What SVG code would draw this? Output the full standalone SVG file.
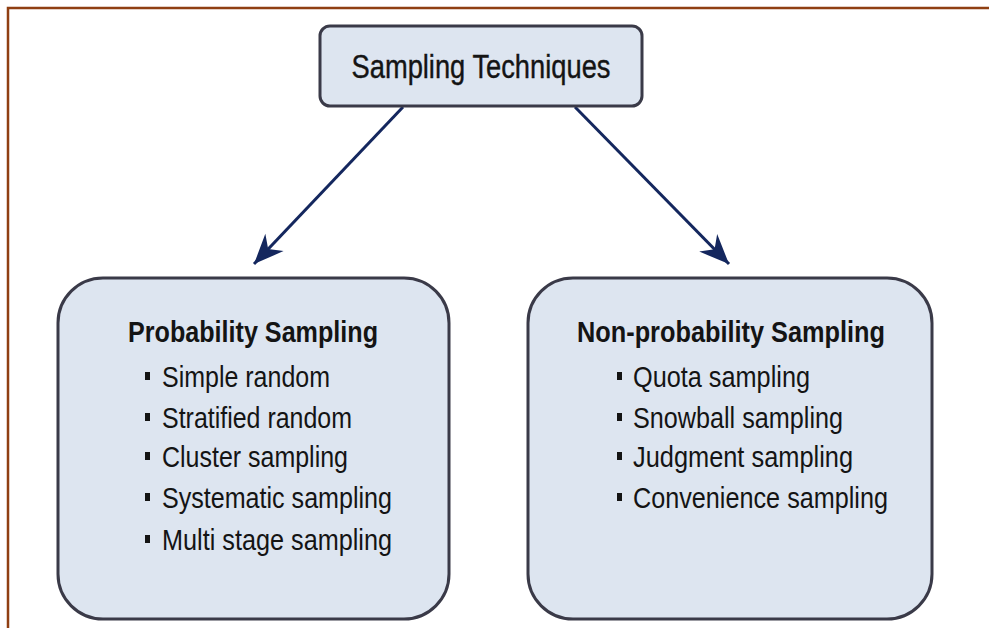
<svg xmlns="http://www.w3.org/2000/svg" width="989" height="628" viewBox="0 0 989 628">
<style>
.box{fill:#dde5f0;stroke:#3a3a48;stroke-width:3}
.t{font-family:"Liberation Sans",Arial,sans-serif;fill:#141414}
.h{font-weight:bold;font-size:30px}
.i{font-size:29px}
.bul{fill:#141414}
.conn{stroke:#14275e;stroke-width:3;fill:none;marker-end:url(#ah)}
</style>
<defs>
<marker id="ah" markerUnits="userSpaceOnUse" markerWidth="40" markerHeight="40" viewBox="-30 -15 35 30" refX="0" refY="0" orient="auto">
<path d="M0,0 L-26,-11 L-18,0 L-26,11 Z" fill="#14275e"/>
</marker>
</defs>
<rect width="989" height="628" fill="#ffffff"/>
<path d="M8,628 L8,8 L989,8" fill="none" stroke="#8f3f12" stroke-width="2.5"/>
<g id="connectors">
<line class="conn" x1="403" y1="107" x2="254" y2="264"/>
<line class="conn" x1="575" y1="107" x2="729" y2="264"/>
</g>
<g id="root">
<rect class="box" x="320" y="26" width="322" height="80" rx="10"/>
<text class="t" x="481" y="78" text-anchor="middle" font-size="33" textLength="259" lengthAdjust="spacingAndGlyphs" stroke="#141414" stroke-width="0.4">Sampling Techniques</text>
</g>
<g id="probability">
<rect class="box" x="58" y="278" width="391" height="341" rx="45"/>
<text class="t h" x="128" y="342" textLength="250" lengthAdjust="spacingAndGlyphs">Probability Sampling</text>
<rect class="bul" x="145" y="372" width="5" height="8"/>
<text class="t i" x="162" y="387" textLength="168" lengthAdjust="spacingAndGlyphs">Simple random</text>
<rect class="bul" x="145" y="413" width="5" height="8"/>
<text class="t i" x="162" y="428" textLength="190" lengthAdjust="spacingAndGlyphs">Stratified random</text>
<rect class="bul" x="145" y="452" width="5" height="8"/>
<text class="t i" x="162" y="467" textLength="186" lengthAdjust="spacingAndGlyphs">Cluster sampling</text>
<rect class="bul" x="145" y="493" width="5" height="8"/>
<text class="t i" x="162" y="508" textLength="230" lengthAdjust="spacingAndGlyphs">Systematic sampling</text>
<rect class="bul" x="145" y="535" width="5" height="8"/>
<text class="t i" x="162" y="550" textLength="230" lengthAdjust="spacingAndGlyphs">Multi stage sampling</text>
</g>
<g id="nonprobability">
<rect class="box" x="528" y="278" width="404" height="341" rx="45"/>
<text class="t h" x="577" y="342" textLength="308" lengthAdjust="spacingAndGlyphs">Non-probability Sampling</text>
<rect class="bul" x="617" y="372" width="5" height="8"/>
<text class="t i" x="633" y="387" textLength="177" lengthAdjust="spacingAndGlyphs">Quota sampling</text>
<rect class="bul" x="617" y="413" width="5" height="8"/>
<text class="t i" x="633" y="428" textLength="210" lengthAdjust="spacingAndGlyphs">Snowball sampling</text>
<rect class="bul" x="617" y="452" width="5" height="8"/>
<text class="t i" x="633" y="467" textLength="220" lengthAdjust="spacingAndGlyphs">Judgment sampling</text>
<rect class="bul" x="617" y="493" width="5" height="8"/>
<text class="t i" x="633" y="508" textLength="255" lengthAdjust="spacingAndGlyphs">Convenience sampling</text>
</g>
</svg>
